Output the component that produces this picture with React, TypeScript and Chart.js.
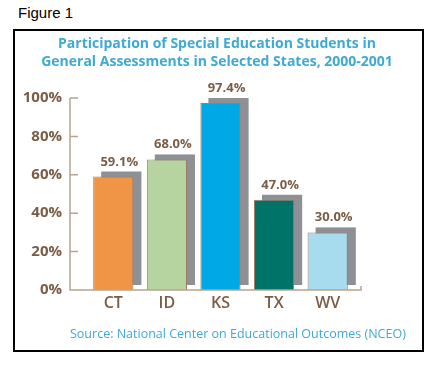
import React, { useEffect, useRef } from "react";
import { Chart, registerables } from "chart.js";

Chart.register(...registerables);

const categories = ["CT", "ID", "KS", "TX", "WV"];
const participation = [59.1, 68.0, 97.4, 47.0, 30.0];
const barColors = ["#ef9545", "#b6d4a0", "#00a9e5", "#007368", "#a7dcee"];
const yTicks = [0, 20, 40, 60, 80, 100];
const titleLines = [
  "Participation of Special Education Students in",
  "General Assessments in Selected States, 2000-2001",
];
const sourceText = "Source: National Center on Educational Outcomes (NCEO)";
const figureLabel = "Figure 1";

const FONT = "'Open Sans', 'DejaVu Sans', sans-serif";
const BROWN = "#7b5d45";
const AXIS = "#b8a48f";
const BLUE_TXT = "#3fa9d5";

const decorPlugin = {
  id: "decor",
  beforeDatasetsDraw(chart: any) {
    const ctx = chart.ctx;
    const meta = chart.getDatasetMeta(0);
    ctx.save();
    ctx.fillStyle = "#8f9095";
    meta.data.forEach((bar: any) => {
      const w = bar.width;
      const left = bar.x - w / 2 + 8;
      const top = bar.y - 5;
      const h = bar.base - bar.y;
      ctx.fillRect(left, top, w, h);
    });
    ctx.restore();
  },
  afterDatasetsDraw(chart: any) {
    const ctx = chart.ctx;
    const area = chart.chartArea;
    const yScale = chart.scales.y;
    const axisX = area.left - 16.5;
    const axisRight = area.right + 6.5;
    const base = yScale.getPixelForValue(0);
    ctx.save();
    ctx.strokeStyle = AXIS;
    ctx.lineWidth = 1.5;
    ctx.beginPath();
    ctx.moveTo(axisX, yScale.getPixelForValue(100));
    ctx.lineTo(axisX, base);
    ctx.lineTo(axisRight, base);
    ctx.lineTo(axisRight, base - 4);
    yTicks.forEach((v) => {
      const py = yScale.getPixelForValue(v);
      ctx.moveTo(axisX, py);
      ctx.lineTo(axisX + 8, py);
    });
    ctx.stroke();

    const meta = chart.getDatasetMeta(0);
    ctx.fillStyle = BROWN;
    ctx.font = `bold 13px ${FONT}`;
    ctx.textAlign = "center";
    ctx.textBaseline = "alphabetic";
    meta.data.forEach((bar: any, i: number) => {
      ctx.fillText(participation[i].toFixed(1) + "%", bar.x + 6, bar.y - 11);
    });
    ctx.restore();
  },
};

export default function App() {
  const ref = useRef<HTMLCanvasElement>(null);
  useEffect(() => {
    const chart = new Chart(ref.current!, {
      type: "bar",
      data: {
        labels: categories,
        datasets: [
          {
            data: participation,
            backgroundColor: barColors,
            borderColor: "#9c7e62",
            borderWidth: 1,
            categoryPercentage: 1,
            barPercentage: 0.75,
          },
        ],
      },
      options: {
        responsive: false,
        animation: false,
        devicePixelRatio: 1,
        layout: { padding: { top: 35, left: 0, right: 0, bottom: 38 } },
        plugins: {
          legend: { display: false },
          tooltip: { enabled: false },
          title: {
            display: true,
            text: titleLines,
            color: BLUE_TXT,
            font: { family: FONT, size: 14, weight: "bold", lineHeight: 1.2857 },
            padding: { top: 0, bottom: 27 },
          },
        },
        scales: {
          x: {
            grid: { display: false, drawTicks: false },
            border: { display: false },
            ticks: {
              color: BROWN,
              font: { family: FONT, size: 16, weight: "600" },
              padding: 4,
              maxRotation: 0,
            },
            afterFit: (s: any) => {
              s.height = 37;
            },
          },
          y: {
            min: 0,
            max: 100,
            grid: { display: false, drawTicks: false },
            border: { display: false },
            ticks: {
              stepSize: 20,
              color: BROWN,
              font: { family: FONT, size: 15, weight: "bold" },
              padding: 24.5,
              callback: (v: any) => v + "%",
            },
            afterFit: (s: any) => {
              s.width = 86.5;
            },
          },
          yRight: {
            position: "right",
            min: 0,
            max: 100,
            grid: { display: false, drawTicks: false },
            border: { display: false },
            ticks: { display: false },
            afterFit: (s: any) => {
              s.width = 79.5;
            },
          },
        },
      },
      plugins: [decorPlugin],
    });
    return () => chart.destroy();
  }, []);

  return (
    <div style={{ position: "fixed", left: 0, top: 0, width: 434, height: 365, background: "#fff" }}>
      <div
        style={{
          position: "absolute",
          left: 18,
          top: 4,
          fontFamily: "'Liberation Sans', Arial, sans-serif",
          fontSize: 15,
          color: "#000",
        }}
      >
        {figureLabel}
      </div>
      <div
        style={{
          position: "absolute",
          left: 13,
          top: 29,
          width: 411,
          height: 323,
          border: "2px solid #000",
          boxSizing: "border-box",
        }}
      />
      <canvas
        ref={ref}
        width={434}
        height={365}
        style={{ position: "absolute", left: 0, top: 0, width: 434, height: 365 }}
      />
      <div
        style={{
          position: "absolute",
          left: 70,
          top: 326,
          fontFamily: FONT,
          fontSize: 12.5,
          lineHeight: "16px",
          color: BLUE_TXT,
          whiteSpace: "nowrap",
        }}
      >
        {sourceText}
      </div>
    </div>
  );
}
